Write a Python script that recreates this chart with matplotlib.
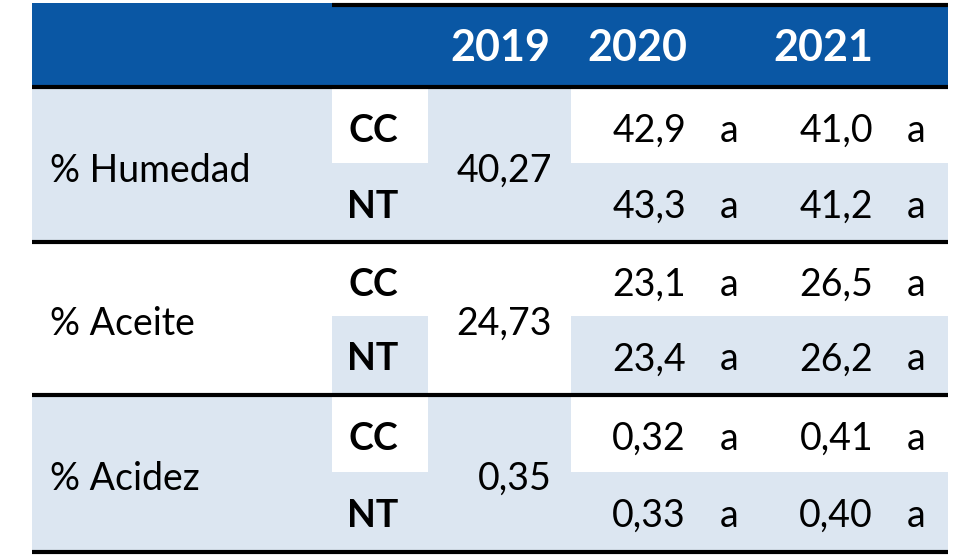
import matplotlib.pyplot as plt
from matplotlib.patches import Rectangle

# ---------- data ----------
years = ["2019", "2020", "2021"]
variables = ["% Humedad", "% Aceite", "% Acidez"]
treatments = ["CC", "NT"]
val_2019 = ["40,27", "24,73", "0,35"]
val_2020 = [["42,9", "43,3"], ["23,1", "23,4"], ["0,32", "0,33"]]
let_2020 = [["a", "a"], ["a", "a"], ["a", "a"]]
val_2021 = [["41,0", "41,2"], ["26,5", "26,2"], ["0,41", "0,40"]]
let_2021 = [["a", "a"], ["a", "a"], ["a", "a"]]

# ---------- layout (pixel units) ----------
BLUE = "#0A57A4"
LIGHT = "#DCE6F1"
x_left, x_b, x_c, x_d, x_right = 32, 332, 428, 571, 948
head_top, head_bot = 3, 87
blocks = [(89, 163, 240), (243, 316, 393), (395, 472, 550)]
label_fill = [True, False, True]

plt.rcParams['font.family'] = ['Lato', 'DejaVu Sans']
fig = plt.figure(figsize=(9.8, 5.6), dpi=100)
ax = fig.add_axes([0, 0, 1, 1])
ax.set_xlim(0, 980)
ax.set_ylim(560, 0)
ax.axis('off')

def box(x0, x1, y0, y1, color):
    ax.add_patch(Rectangle((x0, y0), x1 - x0, y1 - y0, color=color, lw=0))

# header
box(x_left, x_right, head_top, head_bot, BLUE)
ax.plot([x_b, x_right], [5, 5], color="black", lw=3, solid_capstyle='butt')
head_x = [500, 637, 823]
for x, yr in zip(head_x, years):
    ax.text(x, 48, yr, color="white", fontsize=31, fontweight="bold",
            ha="center", va="center")
ax.plot([x_left, x_right], [87, 87], color="black", lw=3, solid_capstyle='butt')

body_fs = 27
for i, (y0, ym, y1) in enumerate(blocks):
    if label_fill[i]:
        box(x_left, x_b, y0, y1, LIGHT)
        box(x_c, x_d, y0, y1, LIGHT)
    box(x_b, x_c, ym, y1, LIGHT)
    box(x_d, x_right, ym, y1, LIGHT)
    yc = (y0 + y1) / 2 + 6
    ax.text(50, yc, variables[i], fontsize=body_fs, ha="left", va="center")
    ax.text(552, yc, val_2019[i], fontsize=body_fs, ha="right", va="center")
    for j, (ya, yb) in enumerate([(y0, ym), (ym, y1)]):
        yt = (ya + yb) / 2 + 5
        ax.text(373, yt, treatments[j], fontsize=body_fs, fontweight="bold",
                ha="center", va="center")
        ax.text(686, yt, val_2020[i][j], fontsize=body_fs, ha="right", va="center")
        ax.text(729, yt, let_2020[i][j], fontsize=body_fs, ha="center", va="center")
        ax.text(873, yt, val_2021[i][j], fontsize=body_fs, ha="right", va="center")
        ax.text(916, yt, let_2021[i][j], fontsize=body_fs, ha="center", va="center")
    ax.plot([x_left, x_right], [y1 + 1.5, y1 + 1.5], color="black", lw=3,
            solid_capstyle='butt')

fig.savefig("out.png", dpi=100)
